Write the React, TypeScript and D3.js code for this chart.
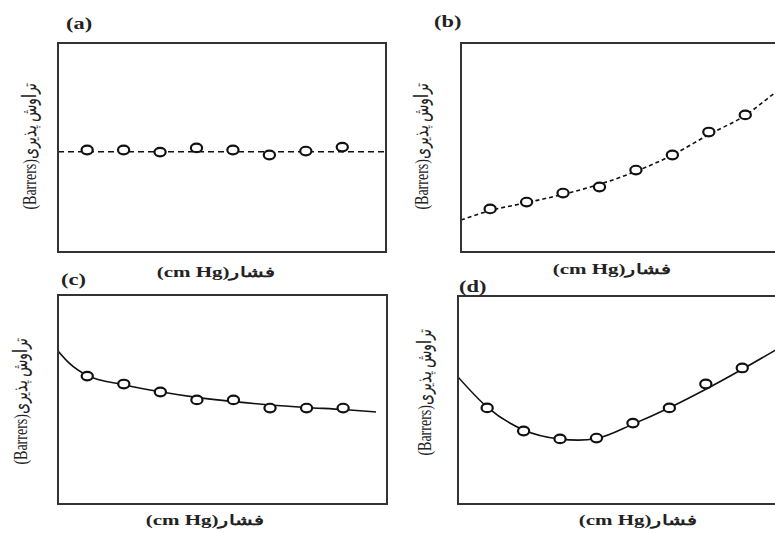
import * as d3 from "d3";

// pressure steps of the measured points (same for all four panels)
const pressure = [10, 20, 30, 40, 50, 60, 70, 80];

const permA = [48.8, 48.8, 47.8, 49.8, 48.8, 46.4, 48.3, 50.2];
const permB = [20.6, 23.9, 28.2, 31.1, 39.2, 46.4, 57.4, 65.6];
const permC = [61.2, 57.4, 53.6, 49.8, 49.8, 45.9, 45.9, 45.9];
const permD = [46.2, 35.1, 31.3, 31.7, 38.9, 46.2, 57.7, 65.4];

// fitted trend lines
const fitXA = [2, 92];
const fitYA = [48, 48];
const fitXB = [2, 10, 20, 30, 40, 50, 60, 70, 80, 88, 92];
const fitYB = [15.3, 19.8, 23.6, 27.6, 32.4, 38.6, 46.4, 56.2, 65.4, 76, 81.5];
const fitXC = [2, 5, 10, 20, 30, 40, 50, 60, 70, 80, 89];
const fitYC = [73.2, 67.5, 61.5, 57.1, 53.7, 51.0, 49.0, 47.4, 46.2, 45.2, 44.0];
const fitXD = [2, 10, 20, 30, 35, 40, 50, 60, 70, 80, 92];
const fitYD = [61.1, 46.6, 35.6, 31.2, 30.7, 31.5, 38.4, 46.3, 55.2, 64.8, 77];

const panelLetters = ["(a)", "(b)", "(c)", "(d)"];
const xTitle = "(cm Hg)فشار";
const yTitle = "(Barrers)تراوش پذیری";

const W = 775;
const H = 533;
const serif = "'Liberation Serif', 'Times New Roman', serif";

const panels = [
  { left: 58, top: 43, w: 328, h: 209, pts: permA, fx: fitXA, fy: fitYA, dash: "6 4",
    letter: [66, 29], xl: [216, 272], yl: [30, 146] },
  { left: 461, top: 43, w: 328, h: 209, pts: permB, fx: fitXB, fy: fitYB, dash: "4 3",
    letter: [434, 27], xl: [612, 269], yl: [422, 146] },
  { left: 58, top: 295, w: 329, h: 209, pts: permC, fx: fitXC, fy: fitYC, dash: null,
    letter: [61, 285], xl: [205, 520], yl: [21, 401] },
  { left: 458, top: 296, w: 328, h: 208, pts: permD, fx: fitXD, fy: fitYD, dash: null,
    letter: [459, 292], xl: [638, 520], yl: [425, 392] },
];

const Panel = ({ p, i }: { p: any; i: number }) => {
  const x = d3.scaleLinear().domain([2, 92]).range([p.left, p.left + p.w]);
  const y = d3.scaleLinear().domain([0, 100]).range([p.top + p.h, p.top]);
  const line = d3
    .line<number>()
    .x((_, k) => x(p.fx[k]))
    .y((d) => y(d))
    .curve(d3.curveMonotoneX);
  const clipId = `clip-${i}`;
  return (
    <g>
      <defs>
        <clipPath id={clipId}>
          <rect x={p.left} y={p.top} width={p.w} height={p.h} />
        </clipPath>
      </defs>
      <g clipPath={`url(#${clipId})`}>
        <path
          d={line(p.fy) || ""}
          fill="none"
          stroke="#111"
          strokeWidth={1.6}
          strokeDasharray={p.dash || undefined}
        />
        {pressure.map((v, k) => (
          <ellipse
            key={k}
            cx={x(v)}
            cy={y(p.pts[k])}
            rx={5.6}
            ry={4.3}
            fill="#fff"
            stroke="#111"
            strokeWidth={2.2}
          />
        ))}
      </g>
      <rect
        x={p.left}
        y={p.top}
        width={p.w}
        height={p.h}
        fill="none"
        stroke="#333"
        strokeWidth={2}
      />
      <text
        transform={`translate(${p.letter[0]},${p.letter[1]}) scale(1.4,1)`}
        fontFamily={serif}
        fontWeight="bold"
        fontSize={16}
        fill="#222"
      >
        {panelLetters[i]}
      </text>
      <text
        transform={`translate(${p.xl[0]},${p.xl[1]}) scale(1.5,1)`}
        textAnchor="middle"
        dominantBaseline="central"
        fontFamily={serif}
        fontWeight="bold"
        fontSize={14}
        fill="#222"
      >
        {xTitle}
      </text>
      <text
        transform={`translate(${p.yl[0]},${p.yl[1]}) rotate(-90) scale(1,1.4)`}
        textAnchor="middle"
        dominantBaseline="central"
        fontFamily={serif}
        fontSize={14}
        fill="#222"
      >
        {yTitle}
      </text>
    </g>
  );
};

const App = () => {
  return (
    <div style={{ position: "absolute", left: 0, top: 0 }}>
      <svg width={W} height={H} style={{ display: "block", background: "#fff" }}>
        {panels.map((p, i) => (
          <Panel key={i} p={p} i={i} />
        ))}
      </svg>
    </div>
  );
};

export default App;
